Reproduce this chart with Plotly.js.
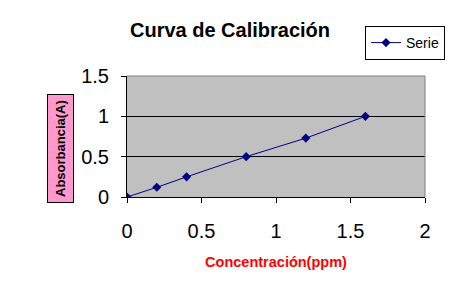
<!DOCTYPE html>
<html>
<head>
<meta charset="utf-8">
<script src="https://cdn.plot.ly/plotly-3.0.1.min.js"></script>
<style>html,body{margin:0;padding:0;background:#fff;}#chart{width:458px;height:303px;}</style>
</head>
<body>
<div id="chart"></div>
<script>
const concentracion = [0, 0.2, 0.4, 0.8, 1.2, 1.6];
const absorbancia = [0, 0.12, 0.25, 0.5, 0.73, 1.0];
const xTicks = [0, 0.5, 1, 1.5, 2];
const yTicks = [0, 0.5, 1, 1.5];
const serieName = 'Serie';
const chartTitle = 'Curva de Calibración';
const xTitle = 'Concentración(ppm)';
const yTitle = 'Absorbancia(A)';

const trace = {
  x: concentracion, y: absorbancia, type: 'scatter', mode: 'lines+markers', name: serieName,
  line: {color: '#000080', width: 1},
  marker: {symbol: 'diamond', size: 7, color: '#000080'}
};

const layout = {
  width: 458, height: 303,
  margin: {l: 127, r: 33, t: 76, b: 106, pad: 0},
  paper_bgcolor: '#ffffff', plot_bgcolor: '#c0c0c0',
  font: {family: 'Arial, Liberation Sans, sans-serif', color: '#000'},
  title: {text: '<b>' + chartTitle + '</b>', font: {size: 20, color: '#000'}, x: 230/458, xanchor: 'center', y: 1 - 30/303, yanchor: 'middle', xref: 'container', yref: 'container'},
  showlegend: true,
  legend: {x: (365-127)/298, y: (197-26)/121, xanchor: 'left', yanchor: 'top', bgcolor: '#fff', bordercolor: '#000', borderwidth: 1, font: {size: 14}, tracegroupgap: 0, itemwidth: 30},
  xaxis: {
    range: [0, 2], tickvals: xTicks, ticktext: xTicks.map(String), showgrid: false, zeroline: false,
    showline: true, linecolor: '#000', linewidth: 1, ticks: 'outside', ticklen: 5, tickcolor: '#000',
    tickfont: {size: 20, color: '#000'}, fixedrange: true, ticklabelstandoff: 11,
    title: {text: '<b>' + xTitle + '</b>', font: {size: 14.5, color: '#ff0000'}, standoff: 15}
  },
  yaxis: {
    range: [0, 1.5], tickvals: yTicks, ticktext: yTicks.map(String), showgrid: true, gridcolor: '#000', gridwidth: 1, zeroline: false,
    showline: true, linecolor: '#000', linewidth: 1, ticks: 'outside', ticklen: 5, tickcolor: '#000',
    tickfont: {size: 20, color: '#000'}, fixedrange: true, ticklabelstandoff: 8
  },
  shapes: [
    {type: 'line', xref: 'paper', yref: 'paper', x0: 0, x1: 1, y0: 1, y1: 1, line: {color: '#808080', width: 1}, layer: 'above'},
    {type: 'line', xref: 'paper', yref: 'paper', x0: 1, x1: 1, y0: 0, y1: 1, line: {color: '#808080', width: 1}, layer: 'above'}
  ],
  annotations: [{
    text: '<b>' + yTitle + '</b>', textangle: -90, xref: 'paper', yref: 'paper',
    x: (60-127)/298, y: (197-149)/121, xanchor: 'center', yanchor: 'middle', showarrow: false,
    font: {size: 13, color: '#000'}, bgcolor: '#ff99cc', bordercolor: '#000', borderwidth: 1, borderpad: 5
  }]
};

Plotly.newPlot('chart', [trace], layout, {displayModeBar: false, staticPlot: true});
</script>
</body>
</html>
